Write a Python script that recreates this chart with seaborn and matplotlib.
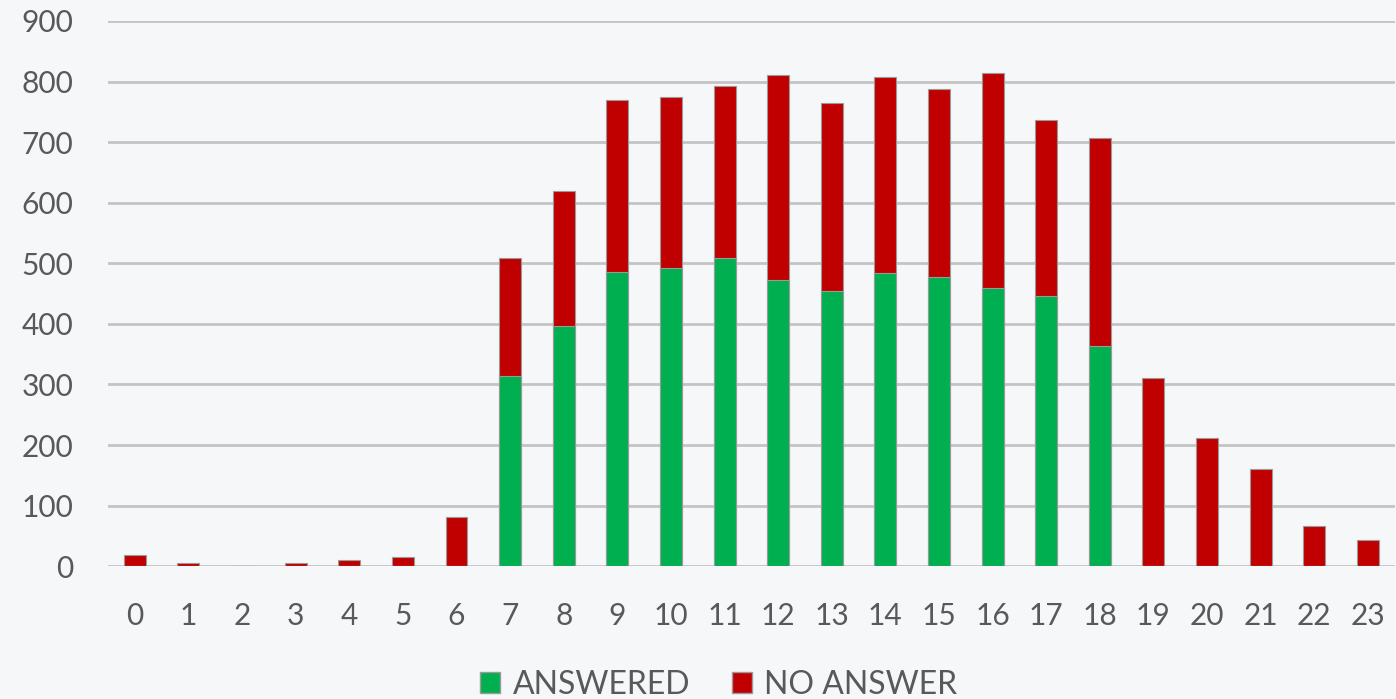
import matplotlib
matplotlib.use("Agg")
import matplotlib.pyplot as plt
import seaborn as sns
import pandas as pd
from matplotlib.patches import Patch

hours = [str(h) for h in range(24)]
answered = [0, 0, 0, 0, 0, 0, 0, 314, 397, 486, 492, 509, 472, 454, 484, 477, 460, 446, 363, 0, 0, 0, 0, 0]
no_answer = [18, 5, 0, 5, 10, 15, 81, 195, 222, 283, 283, 283, 339, 311, 323, 311, 354, 291, 344, 311, 211, 160, 66, 43]

green = "#00B050"
red = "#C00000"
bg = "#F5F7F9"

df = pd.DataFrame({"hour": hours, "answered": answered, "no_answer": no_answer})
df["total"] = df["answered"] + df["no_answer"]

sns.set_theme(style="white")
plt.rcParams["font.family"] = ["Lato", "DejaVu Sans"]

fig = plt.figure(figsize=(13.96, 6.99), dpi=100, facecolor=bg)
ax = fig.add_axes([0.0774, 0.19, 0.9216, 0.78])
ax.set_facecolor(bg)

sns.barplot(data=df, x="hour", y="total", color=red, saturation=1, width=0.41,
            edgecolor="#9a9a9a", linewidth=0.8, ax=ax, order=hours)
sns.barplot(data=df, x="hour", y="answered", color=green, saturation=1, width=0.41,
            edgecolor="#9a9a9a", linewidth=0.8, ax=ax, order=hours)

ax.set_ylim(0, 900)
ax.set_xlim(-0.5, 23.5)
ax.set_yticks(range(0, 901, 100))
ax.yaxis.grid(True, color="#C4C4C4", linewidth=2)
ax.set_axisbelow(True)
for s in ax.spines.values():
    s.set_visible(False)
ax.set_xlabel("")
ax.set_ylabel("")
ax.tick_params(axis="both", length=0, labelsize=21.5, labelcolor="#595959")
ax.tick_params(axis="y", pad=25)
ax.tick_params(axis="x", pad=26)

handles = [Patch(facecolor=green, edgecolor="#9a9a9a", label="ANSWERED"),
           Patch(facecolor=red, edgecolor="#9a9a9a", label="NO ANSWER")]
leg = fig.legend(handles=handles, loc="center", bbox_to_anchor=(0.515, 0.02), ncol=2,
                 frameon=False, fontsize=23, handlelength=0.62, handleheight=0.62,
                 handletextpad=0.4, columnspacing=1.3, labelcolor="#595959")

fig.savefig("out.png", dpi=100, facecolor=bg)
